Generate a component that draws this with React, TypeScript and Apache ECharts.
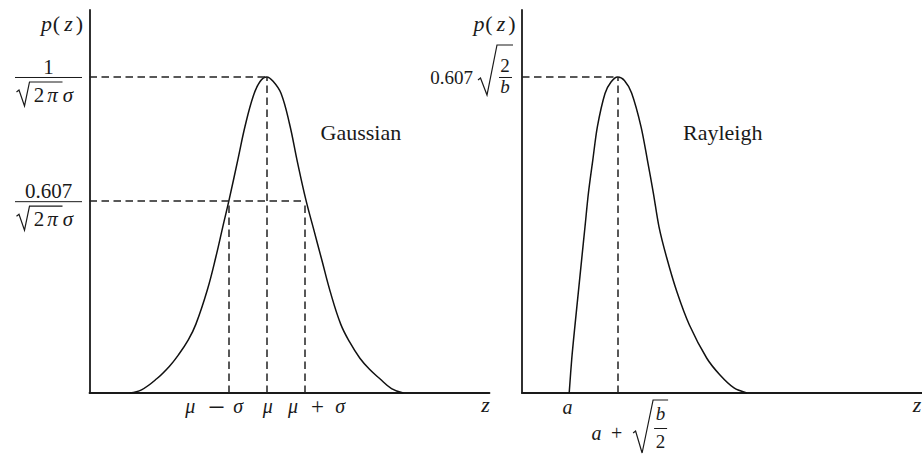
import React, { useEffect, useRef } from 'react';
import * as echarts from 'echarts';

// ---- data (z in axis units, p normalised to the peak) ----
const gaussZ = [10.1, 13.0, 16.8, 20.0, 22.2, 24.7, 26.6, 29.45, 31.6, 33.45, 34.9, 37.2, 38.9, 40.95, 42.6, 44.3, 46.0, 47.9, 50.0, 52.0, 54.1, 56.0, 58.1, 60.2, 62.8, 65.1, 67.6, 70.0, 72.6, 75.5, 78.45];
const gaussP = [0, 0.01, 0.045, 0.085, 0.12, 0.168, 0.218, 0.326, 0.431, 0.533, 0.611, 0.745, 0.845, 0.94, 0.985, 1.0, 0.985, 0.948, 0.852, 0.73, 0.611, 0.52, 0.42, 0.32, 0.218, 0.16, 0.11, 0.075, 0.045, 0.014, 0];
const rayZ = [11.8, 12.45, 13.25, 14.1, 14.95, 15.75, 16.6, 17.7, 18.85, 20.75, 22.25, 23.9, 25.6, 27.4, 29.75, 31.35, 32.85, 34.25, 36.2, 38.7, 41.85, 46.2, 49.5, 53.0, 56.2];
const rayP = [0, 0.11, 0.215, 0.321, 0.427, 0.526, 0.632, 0.737, 0.843, 0.948, 0.984, 1.0, 0.989, 0.949, 0.843, 0.737, 0.632, 0.526, 0.427, 0.321, 0.215, 0.11, 0.057, 0.016, 0];

const gaussMu = 44.3;
const gaussSigma = 9.6;
const rayA = 11.8;
const rayMode = 23.9;
const peakLevel = 1;
const halfLevel = 0.607;
const xMax = 100;
const yMax = 1.212;

const plotTitles = ['Gaussian', 'Rayleigh'];
const yAxisName = ['p', '(', 'z', ')'];
const xAxisName = 'z';
const levelNumerators = ['1', '0.607'];
const gaussTickLabels = [['μ', '−', 'σ'], ['μ'], ['μ', '+', 'σ']];
const rayTickLabel = 'a';

const SERIF = "'Liberation Serif', 'Times New Roman', serif";
const INK = '#1a1a1a';

function txt(text: string, x: number, y: number, size: number, italic: boolean, align = 'center') {
  return {
    type: 'text',
    x,
    y,
    silent: true,
    style: {
      text,
      fontFamily: SERIF,
      fontSize: size,
      fontStyle: italic ? 'italic' : 'normal',
      fill: INK,
      align,
      verticalAlign: 'middle',
      textAlign: align,
      textVerticalAlign: 'middle',
    },
  };
}
function seg(x1: number, y1: number, x2: number, y2: number, w = 1) {
  return { type: 'line', silent: true, shape: { x1, y1, x2, y2 }, style: { stroke: INK, lineWidth: w } };
}
function poly(points: number[][], w = 1.2) {
  return { type: 'polyline', silent: true, shape: { points }, style: { stroke: INK, lineWidth: w, fill: 'none' } };
}

const dash = { type: [7.5, 4.5] as any, width: 1.5, color: '#222' };

export default function App() {
  const ref = useRef<HTMLDivElement>(null);
  useEffect(() => {
    if (!ref.current) return;
    const chart = echarts.init(ref.current, null, { renderer: 'svg' });
    const axisLine = { show: true, onZero: false, lineStyle: { color: INK, width: 1.8 } };
    const hidden = { axisTick: { show: false }, axisLabel: { show: false }, splitLine: { show: false } };
    const guide = (pairs: number[][][]) => ({
      silent: true,
      symbol: ['none', 'none'],
      label: { show: false },
      lineStyle: dash,
      data: pairs.map((p) => [{ coord: p[0] }, { coord: p[1] }]),
    });
    chart.setOption({
      animation: false,
      backgroundColor: '#ffffff',
      grid: [
        { left: 89.5, top: 10, width: 400, height: 383, outerBoundsMode: 'none' },
        { left: 522, top: 10, width: 400, height: 383, outerBoundsMode: 'none' },
      ],
      xAxis: [
        { type: 'value', gridIndex: 0, min: 0, max: xMax, axisLine, ...hidden },
        { type: 'value', gridIndex: 1, min: 0, max: xMax, axisLine, ...hidden },
      ],
      yAxis: [
        { type: 'value', gridIndex: 0, min: 0, max: yMax, axisLine, ...hidden },
        { type: 'value', gridIndex: 1, min: 0, max: yMax, axisLine, ...hidden },
      ],
      series: [
        {
          type: 'line',
          xAxisIndex: 0,
          yAxisIndex: 0,
          data: gaussZ.map((z, i) => [z, gaussP[i]]),
          showSymbol: false,
          smooth: 0.4,
          lineStyle: { color: '#111', width: 1.5 },
          markLine: guide([
            [[0, peakLevel], [gaussMu, peakLevel]],
            [[0, halfLevel], [gaussMu + gaussSigma, halfLevel]],
            [[gaussMu, 0], [gaussMu, peakLevel]],
            [[gaussMu - gaussSigma, 0], [gaussMu - gaussSigma, halfLevel]],
            [[gaussMu + gaussSigma, 0], [gaussMu + gaussSigma, halfLevel]],
          ]),
        },
        {
          type: 'line',
          xAxisIndex: 1,
          yAxisIndex: 1,
          data: rayZ.map((z, i) => [z, rayP[i]]),
          showSymbol: false,
          smooth: 0.3,
          lineStyle: { color: '#111', width: 1.5 },
          markLine: guide([
            [[0, peakLevel], [rayMode, peakLevel]],
            [[rayMode, 0], [rayMode, peakLevel]],
          ]),
        },
      ],
    });

    const P = (g: number, x: number, y: number) => chart.convertToPixel({ gridIndex: g } as any, [x, y]) as number[];
    const [ax0, base] = P(0, 0, 0);
    const [ax1] = P(1, 0, 0);
    const yPk = P(0, 0, peakLevel)[1];
    const yHf = P(0, 0, halfLevel)[1];
    const g: any[] = [];

    // y-axis names p(z), glyph by glyph (math spacing)
    const nameOffsets = [-43, -33, -21, -10];
    [ax0, ax1].forEach((ax) => {
      yAxisName.forEach((ch, i) => {
        g.push(txt(ch, ax + nameOffsets[i], 23, 22, ch === 'p' || ch === 'z'));
      });
    });
    // x-axis names
    g.push(txt(xAxisName, ax0 + 396, base + 11, 22, true));
    g.push(txt(xAxisName, ax1 + 395, base + 11, 22, true));
    // titles
    g.push(txt(plotTitles[0], ax0 + 231, 132, 22, false, 'left'));
    g.push(txt(plotTitles[1], ax1 + 161, 132, 22, false, 'left'));

    // fraction labels on the Gaussian y axis
    [yPk, yHf].forEach((yb, k) => {
      g.push(seg(ax0 - 74.5, yb + 0.5, ax0 - 7.5, yb + 0.5, 1));
      g.push(txt(levelNumerators[k], ax0 - 41, yb - 10, 21, false));
      g.push(poly([[ax0 - 73, yb + 15], [ax0 - 70.5, yb + 13], [ax0 - 65, yb + 29], [ax0 - 60, yb + 5], [ax0 - 27, yb + 5]]));
      g.push(txt('2', ax0 - 50.5, yb + 18, 21, false));
      g.push(txt('π', ax0 - 37, yb + 18, 21, true));
      g.push(txt('σ', ax0 - 21.5, yb + 18, 21, true));
    });

    // Rayleigh y label 0.607 sqrt(2/b)
    const yPk1 = P(1, 0, peakLevel)[1];
    g.push(txt(levelNumerators[1], ax1 - 49, yPk1 + 1, 19, false, 'right'));
    g.push(poly([[ax1 - 44, yPk1 + 3], [ax1 - 41.5, yPk1 + 1], [ax1 - 35, yPk1 + 18], [ax1 - 25, yPk1 - 32], [ax1 - 9, yPk1 - 32]]));
    g.push(txt('2', ax1 - 17, yPk1 - 11, 19, false));
    g.push(seg(ax1 - 23, yPk1 + 0.5, ax1 - 10, yPk1 + 0.5, 1));
    g.push(txt('b', ax1 - 17, yPk1 + 10, 19, true));

    // Gaussian tick labels
    const xL = P(0, gaussMu - gaussSigma, 0)[0];
    const xM = P(0, gaussMu, 0)[0];
    const xR = P(0, gaussMu + gaussSigma, 0)[0];
    const ty = base + 13;
    const t0 = gaussTickLabels[0], t1 = gaussTickLabels[1], t2 = gaussTickLabels[2];
    g.push(txt(t0[0], xL - 38, ty, 20, true));
    g.push(txt(t0[1], xL - 11.5, ty, 30, false));
    g.push(txt(t0[2], xL + 10, ty, 20, true));
    g.push(txt(t1[0], xM + 1, ty, 20, true));
    g.push(txt(t2[0], xR - 12, ty, 20, true));
    g.push(txt(t2[1], xR + 12.5, ty, 23, false));
    g.push(txt(t2[2], xR + 35, ty, 20, true));

    // Rayleigh tick labels
    const xa = P(1, rayA, 0)[0];
    const xm = P(1, rayMode, 0)[0];
    g.push(txt(rayTickLabel, xa - 1.7, base + 14, 20, true));
    g.push(txt(rayTickLabel, xm - 21, base + 40, 20, true));
    g.push(txt('+', xm - 1, base + 40, 20, false));
    g.push(poly([[xm + 15.5, base + 40], [xm + 18, base + 38], [xm + 24.5, base + 60], [xm + 35.5, base + 7], [xm + 50.5, base + 7]]));
    g.push(txt('b', xm + 43, base + 20, 19, true));
    g.push(seg(xm + 36.5, base + 35.5, xm + 49.5, base + 35.5, 1));
    g.push(txt('2', xm + 43, base + 48, 19, false));

    chart.setOption({ graphic: g });
    return () => chart.dispose();
  }, []);
  return <div ref={ref} style={{ position: 'fixed', left: 0, top: 0, width: 922, height: 456, background: '#fff' }} />;
}
